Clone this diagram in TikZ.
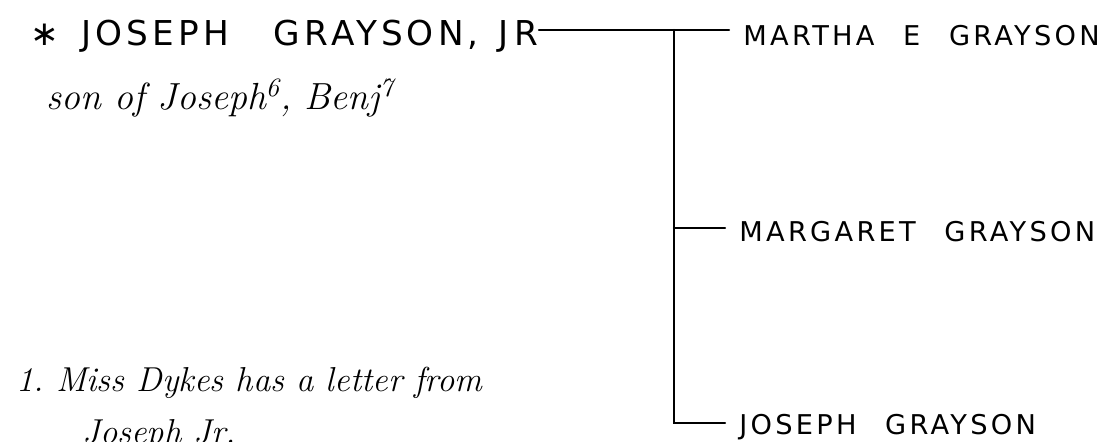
\documentclass[tikz,border=0pt]{standalone}
\usepackage{fontspec}
\newfontfamily\blockfont[LetterSpace=12]{DejaVu Sans}
\newfontfamily\childfont[LetterSpace=12,WordSpace=2.4]{DejaVu Sans}
\usetikzlibrary{positioning}

\begin{document}
\begin{tikzpicture}[x=0.02cm,y=-0.02cm]

  %Styles for picture
  \tikzset
  {
  bigname/.style={anchor=west, inner sep=0pt, font=\blockfont\fontsize{19.5}{22}\selectfont},
  childname/.style={anchor=west, inner ysep=0pt, inner xsep=8pt, font=\childfont\fontsize{15.5}{18}\selectfont},
  note/.style={anchor=base west, inner sep=0pt, font=\itshape\fontsize{19.7}{23}\selectfont},
  sonnote/.style={note, font=\itshape\fontsize{21.5}{25}\selectfont},
  branch/.style={line width=1.2pt, line cap=round},
  }

  \useasboundingbox (0,0) rectangle (1113,442);

  %Nodes
  \node[bigname] (jr) at (30,36) {∗\hspace{0.45cm}JOSEPH\hspace{0.9cm}GRAYSON,\hspace{0.4cm}J\hspace{0.12cm}R};
  \node[sonnote] (son) at (46,110) {son of Joseph\textsuperscript{6}, Benj\textsuperscript{7}};
  \node[childname] (martha) at (729,36) {MARTHA E GRAYSON};
  \node[childname] (margaret) at (725,232) {MARGARET GRAYSON};
  \node[childname] (joseph) at (725,427) {JOSEPH GRAYSON};
  \node[note] (letter) at (16,392) {1.\ Miss Dykes has a letter from};
  \node[note] (jrnote) at (82,443) {Joseph Jr.};

  %Edges
  \coordinate (top) at (674,30);
  \coordinate (mid) at (674,228);
  \coordinate (low) at (674,423);
  \draw[branch] (top -| jr.east) -- (top) -- (top -| martha.west);
  \draw[branch] (top) -- (low) -- (low -| joseph.west);
  \draw[branch] (mid) -- (mid -| margaret.west);
\end{tikzpicture}
\end{document}
